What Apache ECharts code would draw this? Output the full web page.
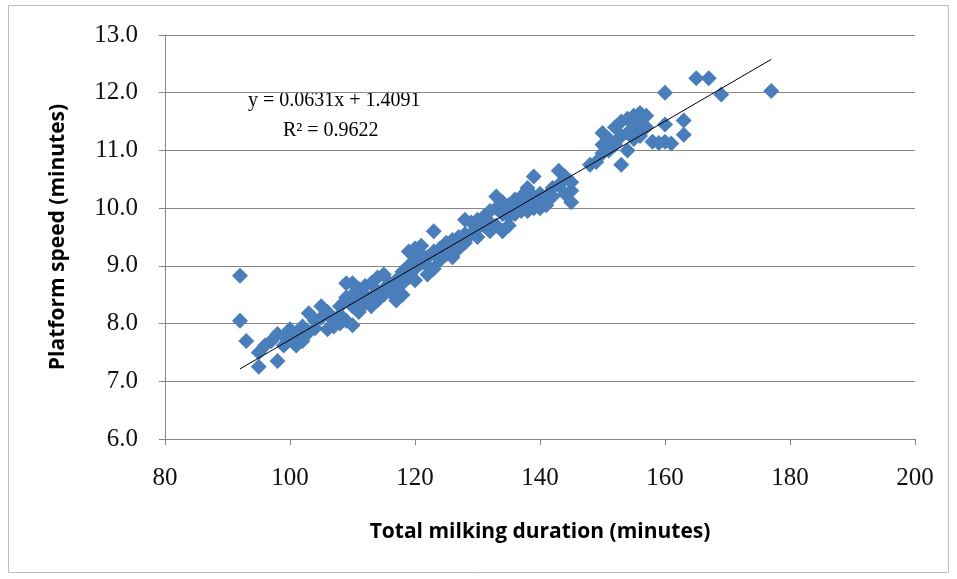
<!DOCTYPE html>
<html>
<head>
<meta charset="utf-8">
<script src="https://cdn.jsdelivr.net/npm/echarts@6/dist/echarts.min.js"></script>
<style>
html,body{margin:0;padding:0;background:#fff;}
#chart{width:957px;height:579px;}
</style>
</head>
<body>
<div id="chart"></div>
<script>
// Data
var milkingDuration = [92,92,93,95,95,96,97,98,98,99,99,100,100,101,101,102,102,103,103,104,104,105,105,106,106,107,107,108,108,108,109,109,109,110,110,110,110,111,111,111,112,112,112,113,113,113,114,114,114,115,115,115,116,116,117,117,117,118,118,118,119,119,119,120,120,120,120,121,121,121,122,122,122,123,123,123,124,124,125,125,126,126,126,127,127,128,128,128,129,129,130,130,130,131,131,132,132,132,133,133,133,134,134,134,135,135,135,136,136,136,137,137,137,138,138,138,139,139,139,140,140,140,141,141,142,142,143,143,144,144,145,145,145,148,149,150,150,150,151,151,152,152,153,153,153,154,154,154,155,155,155,156,156,156,157,157,158,159,160,160,160,161,163,163,165,167,169,177];
var platformSpeed = [8.83,8.05,7.70,7.25,7.50,7.62,7.70,7.35,7.82,7.62,7.78,7.72,7.90,7.62,7.80,7.70,7.95,7.85,8.18,8.05,7.92,8.30,8.10,7.90,8.20,8.05,7.95,8.30,8.00,8.15,8.70,8.45,8.05,8.70,8.30,7.97,8.50,8.40,8.60,8.20,8.65,8.35,8.50,8.45,8.70,8.30,8.80,8.55,8.40,8.85,8.60,8.50,8.70,8.55,8.40,8.75,8.60,8.50,8.90,8.70,9.25,8.80,9.00,9.30,8.95,9.10,8.75,9.35,9.05,9.20,8.85,9.15,9.00,9.60,9.25,8.95,9.30,9.10,9.40,9.20,9.15,9.45,9.30,9.50,9.30,9.80,9.55,9.40,9.75,9.55,9.65,9.50,9.80,9.70,9.85,9.95,9.75,9.60,10.20,9.70,10.00,9.60,9.90,10.10,9.85,10.05,9.70,10.00,10.15,9.90,10.20,9.95,10.05,10.35,10.10,9.95,10.55,10.20,10.00,10.00,10.25,10.10,10.20,10.05,10.35,10.20,10.65,10.40,10.55,10.25,10.45,10.10,10.30,10.75,10.80,11.30,11.10,10.95,11.00,11.20,11.40,11.10,11.50,10.75,11.25,11.30,11.00,11.55,11.60,11.20,11.40,11.65,11.45,11.25,11.60,11.40,11.15,11.13,12.00,11.45,11.15,11.12,11.52,11.27,12.25,12.25,11.97,12.03];
var trendSlope = 0.0631;
var trendIntercept = 1.4091;
var trendRange = [92, 177];
var xTicks = [80,100,120,140,160,180,200];
var yTicks = [6,7,8,9,10,11,12,13];

var points = milkingDuration.map(function(x,i){ return [x, platformSpeed[i]]; });
var trend = trendRange.map(function(x){ return [x, trendSlope*x + trendIntercept]; });

var chart = echarts.init(document.getElementById('chart'));
var gridCol = '#868686';
chart.setOption({
  animation: false,
  backgroundColor: '#fff',
  grid: {left:165, right:42, top:35, bottom:140, containLabel:false},
  xAxis: {
    type:'value', min:xTicks[0], max:xTicks[xTicks.length-1], interval:20,
    name:'Total milking duration (minutes)', nameLocation:'middle', nameGap:83,
    nameTextStyle:{fontFamily:'Open Sans', fontWeight:'bold', fontSize:21, color:'#000'},
    axisLine:{show:true, lineStyle:{color:gridCol, width:1}},
    axisTick:{show:true, inside:false, length:6, lineStyle:{color:gridCol}},
    axisLabel:{fontFamily:'Liberation Serif', fontSize:25, color:'#111', margin:27},
    splitLine:{show:false}
  },
  yAxis: {
    type:'value', min:yTicks[0], max:yTicks[yTicks.length-1], interval:1,
    name:'Platform speed (minutes)', nameLocation:'middle', nameGap:96, nameRotate:90,
    nameTextStyle:{fontFamily:'Open Sans', fontWeight:'bold', fontSize:21, color:'#000'},
    axisLine:{show:true, lineStyle:{color:gridCol, width:1}},
    axisTick:{show:true, inside:false, length:6, lineStyle:{color:gridCol}},
    axisLabel:{fontFamily:'Liberation Serif', fontSize:25, color:'#111', margin:27,
      formatter:function(v){return v.toFixed(1);}},
    splitLine:{show:true, lineStyle:{color:gridCol, width:1}}
  },
  series: [
    {type:'scatter', data:points, symbol:'diamond', symbolSize:[16,16],
     itemStyle:{color:'#4A7EBB', opacity:1}, z:2},
    {type:'line', data:trend, symbol:'none', lineStyle:{color:'#000', width:1}, z:3, silent:true}
  ],
  graphic: [
    {type:'rect', shape:{x:8.5, y:5.5, width:940, height:567}, style:{fill:'none', stroke:'#bfbfbf', lineWidth:1}, z:-1},
    {type:'text', left:248, top:91, style:{text:'y = 0.0631x + 1.4091', fontFamily:'Liberation Serif', fontSize:20, fill:'#000'}},
    {type:'text', left:283, top:121, style:{text:'R² = 0.9622', fontFamily:'Liberation Serif', fontSize:20, fill:'#000'}}
  ]
});
</script>
</body>
</html>
